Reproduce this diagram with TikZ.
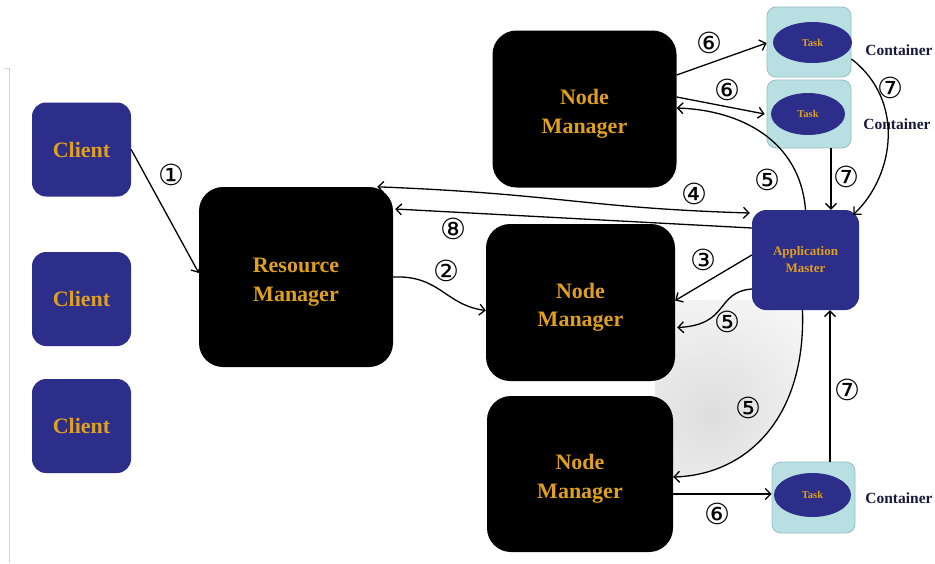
\documentclass[tikz,border=0pt]{standalone}
\usepackage{fontspec}
\setmainfont{Liberation Serif}
\newfontfamily\circfont{DejaVu Sans}
\usetikzlibrary{arrows.meta,calc,shapes.geometric}
\definecolor{navy}{RGB}{45,45,138}
\definecolor{gold}{RGB}{222,160,30}
\definecolor{cyanfill}{RGB}{184,224,226}
\definecolor{cyanedge}{RGB}{150,190,196}
\definecolor{contxt}{RGB}{25,25,60}
\begin{document}
\begin{tikzpicture}[x=1pt,y=-1pt,
  client/.style={fill=navy, rounded corners=14pt, minimum width=99pt, minimum height=94pt, inner sep=0pt, text=gold, font=\bfseries\fontsize{22}{26}\selectfont},
  mgr/.style={fill=black, rounded corners=24pt, inner sep=0pt},
  mgrtext/.style={label={[text=gold, align=center, yshift=-5pt, font=\bfseries\fontsize{22}{28.5}\selectfont]center:#1}},
  amstyle/.style={fill=navy, rounded corners=14pt, inner sep=0pt, text=gold, align=center, minimum width=107pt, minimum height=100pt, font=\bfseries\fontsize{13}{17}\selectfont},
  cont/.style={fill=cyanfill, draw=cyanedge, line width=0.8pt, rounded corners=9pt, inner sep=0pt},
  task/.style={ellipse, fill=navy, inner sep=0pt, text=gold, font=\bfseries\fontsize{10.5}{12}\selectfont},
  lbl/.style={text=contxt, inner sep=0pt, font=\bfseries\fontsize{15.5}{17}\selectfont},
  num/.style={inner sep=0pt, font=\circfont\fontsize{29}{29}\selectfont},
  arr/.style={draw=black, line width=1.3pt, -{Straight Barb[length=5.5pt,width=11pt]}},
  arrb/.style={draw=black, line width=1.3pt, {Straight Barb[length=5.5pt,width=11pt]}-{Straight Barb[length=5.5pt,width=11pt]}}
]
\fill[white] (0,0) rectangle (935,563);
\useasboundingbox (0,0) rectangle (935,563);

% faint frame line at left
\draw[gray!35, line width=1pt] (4,68) -- (9,68) -- (9,563);

% soft grey shadow inside the lower (5) curve
\begin{scope}
  \clip (655,300) -- (655,477) -- (673,477) .. controls (745,475) and (806,420) .. (802.5,310) -- (760,300) -- cycle;
  \shade[inner color=gray!26, outer color=gray!6] (710,415) circle (140);
\end{scope}

% clients
\node[client] (c1) at (81.5,149.5) {Client};
\node[client] (c2) at (81.5,299) {Client};
\node[client] (c3) at (81.5,426) {Client};

% managers
\node[mgr, minimum width=194pt, minimum height=180pt, mgrtext={Resource\\Manager}] (rm) at (296,277) {};
\node[mgr, minimum width=184pt, minimum height=157pt, mgrtext={Node\\Manager}] (nm1) at (584.5,109) {};
\node[mgr, minimum width=189pt, minimum height=157pt, mgrtext={Node\\Manager}] (nm2) at (580.5,302.5) {};
\node[mgr, minimum width=186pt, minimum height=156pt, mgrtext={Node\\Manager}] (nm3) at (580,474) {};

% application master
\node[amstyle] (am) at (805.5,260) {Application\\Master};

% containers
\node[cont, minimum width=84pt, minimum height=70pt] (k1) at (809,42) {};
\node[task, minimum width=79pt, minimum height=41pt] (t1) at (812.5,42.5) {Task};
\node[cont, minimum width=84pt, minimum height=68pt] (k2) at (809,114) {};
\node[task, minimum width=74pt, minimum height=42pt] (t2) at (808,114) {Task};
\node[cont, minimum width=83pt, minimum height=71pt] (k3) at (813.5,497.5) {};
\node[task, minimum width=77pt, minimum height=44pt] (t3) at (812.5,495) {Task};

\node[lbl] (l1) at (899,50) {Container};
\node[lbl] (l2) at (897,124) {Container};
\node[lbl] (l3) at (899,498) {Container};

% connectors
\draw[arr] (c1.east) -- ($(rm.west)+(0,-4)$);
\draw[arr] (rm.east) .. controls (440,275) and (445,305) .. ($(nm2.west)+(0,8)$);
\draw[arr] ($(am.west)+(0,-5)$) -- ($(nm2.east)+(0,-2)$);
\draw[arrb] ($(rm.north east)+(-16,0)$) .. controls (560,194) and (585,208) .. ($(am.west)+(-2,-47)$);
\draw[arr] ($(am.west)+(0,-32)$) -- ($(rm.east)+(2,-68)$);
\draw[arr] (am.north) .. controls (800,140) and (740,110) .. ($(nm1.east)+(0,-1)$);
\draw[arr] ($(am.west)+(0,29)$) .. controls (715,292) and (730,325) .. ($(nm2.east)+(2,25)$);
\draw[arr] ($(am.south)+(-3,0)$) .. controls (806,420) and (745,475) .. ($(nm3.east)+(0,3)$);
\draw[arr] ($(nm1.east)+(0,-34)$) -- ($(k1.west)+(0,1)$);
\draw[arr] ($(nm1.east)+(0,-12)$) -- ($(k2.west)+(-2,0)$);
\draw[arr] ($(nm3.east)+(0,20)$) -- ($(k3.west)+(0,-3.5)$);
\draw[arr] ($(k1.east)+(0,17)$) .. controls (905,100) and (895,175) .. ($(am.north east)+(-6,5)$);
\draw[arr] ($(k2.south)+(22,0)$) -- ($(am.north)+(25.5,0)$);
\draw[arr] ($(k3.north)+(16.5,0)$) -- ($(am.south)+(24.5,0)$);

% step numbers
\node[num] (n1) at (171,175) {①};
\node[num] (n2) at (446,271) {②};
\node[num] (n3) at (703,260) {③};
\node[num] (n4) at (694,194) {④};
\node[num] (n5a) at (767,180) {⑤};
\node[num] (n5b) at (727,322) {⑤};
\node[num] (n5c) at (748,408) {⑤};
\node[num] (n6a) at (709,43) {⑥};
\node[num] (n6b) at (727,90) {⑥};
\node[num] (n6c) at (717,514) {⑥};
\node[num] (n7a) at (890,88) {⑦};
\node[num] (n7b) at (846,177) {⑦};
\node[num] (n7c) at (847,390) {⑦};
\node[num] (n8) at (453,229) {⑧};
\end{tikzpicture}
\end{document}
